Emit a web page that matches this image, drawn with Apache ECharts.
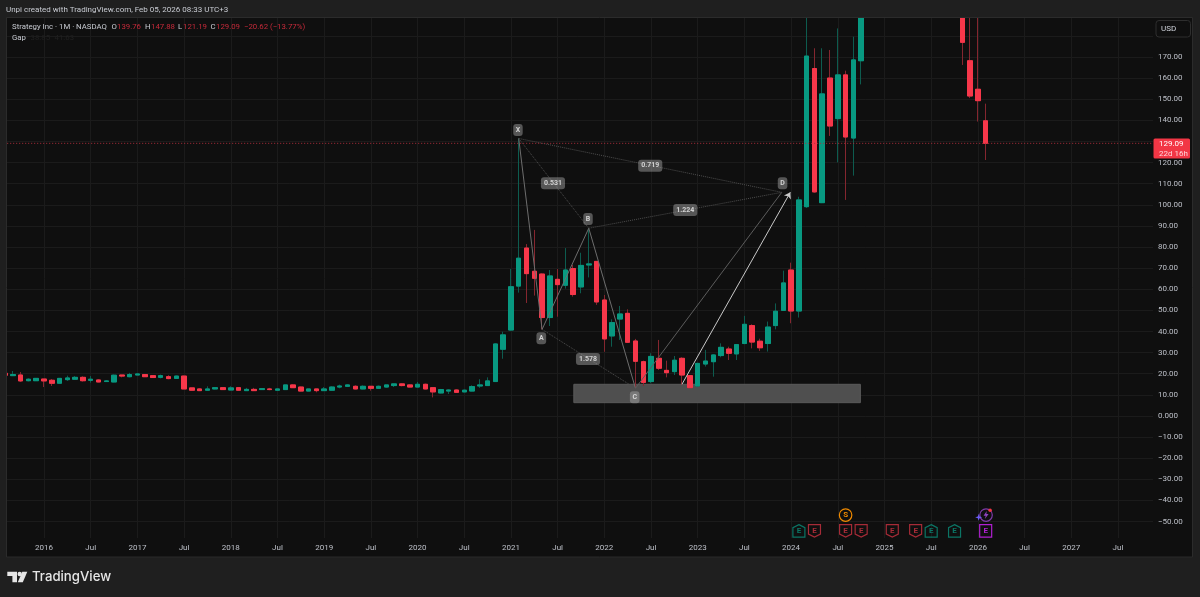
<!DOCTYPE html>
<html>
<head>
<meta charset="utf-8">
<title>Strategy Inc 1M</title>
<style>
  html, body { margin: 0; padding: 0; background: #1f1f1f; }
  #grafico { width: 1200px; height: 597px; }
</style>
<script src="https://cdn.jsdelivr.net/npm/echarts@6/dist/echarts.min.js"></script>
</head>
<body>
<div id="grafico"></div>
<script>
// months on the time scale, Aug 2015 up to Dec 2027
var months = [];
for (var n = 0; n < 148; n++) {
    var total = 2015 * 12 + 7 + n;
    var mm = total % 12 + 1;
    months.push(Math.floor(total / 12) + '-' + (mm < 10 ? '0' : '') + mm);
}

// [open, close, low, high], monthly, first row Aug 2015
var candles = [
    [20.2,19.3,19.1,20.5],[19.1,19.6,18.9,21.3],[19.4,16.6,16.1,20.8],[16.7,17.4,16.4,17.8],[16.7,17.8,16.6,18.0],
    [17.5,16.6,13.7,17.5],[16.9,15.5,14.2,17.5],[15.5,17.8,15.3,18.0],[17.2,18.0,16.6,19.1],[17.4,18.3,17.05,18.9],
    [18.3,16.7,16.3,18.8],[16.9,17.4,15.8,18.9],[17.05,16.1,15.95,17.4],[16.3,16.6,16.1,17.05],[16.1,19.3,15.95,19.6],
    [19.4,18.9,18.3,19.4],[18.6,19.6,18.3,20.4],[19.4,19.9,19.4,20.2],[19.6,18.6,18.5,19.7],[19.1,18.2,18.0,19.3],
    [18.3,19.1,17.8,19.6],[18.6,17.7,17.4,19.3],[17.8,18.9,17.5,19.1],[18.9,12.8,12.8,19.1],[13.3,12.2,12.0,13.3],
    [12.8,12.0,11.8,13.1],[12.2,12.8,12.0,14.05],[12.8,13.4,12.6,13.6],[13.4,12.5,12.3,13.6],[12.3,13.3,12.2,14.05],
    [13.4,12.2,12.0,13.7],[12.0,12.6,11.8,13.3],[12.6,12.0,11.8,13.3],[12.5,12.95,12.3,13.1],[12.8,12.5,12.2,13.3],
    [12.2,12.8,12.0,13.1],[12.5,14.7,12.3,14.7],[14.7,13.4,13.3,15.0],[13.7,11.8,11.7,13.9],[11.8,12.8,11.7,12.8],
    [12.8,12.0,11.2,12.95],[12.0,12.8,11.8,13.7],[12.2,13.7,12.0,14.05],[13.7,14.2,13.1,14.85],[14.05,14.7,13.7,15.0],
    [14.05,12.8,12.6,14.5],[12.8,14.05,12.6,14.5],[14.05,13.1,12.0,14.2],[13.1,14.05,12.8,14.4],[13.7,14.7,13.4,14.7],
    [14.4,15.2,13.7,15.3],[15.2,14.4,14.05,15.5],[14.7,13.7,13.6,15.0],[13.7,15.0,13.6,16.1],[15.0,12.8,12.6,15.3],
    [13.4,11.4,8.8,13.6],[10.9,12.5,10.7,12.8],[11.8,12.3,10.4,12.6],[12.3,11.2,11.05,12.6],[11.4,12.2,11.2,12.5],
    [11.8,13.9,11.7,14.5],[14.2,14.7,13.3,17.4],[14.4,16.6,14.2,18.3],[16.3,34.1,16.3,34.4],[31.6,38.4,27.1,39.9],
    [40.7,61.2,40.4,69.6],[61.5,74.7,58.4,131.5],[79.5,67.4,53.5,81.4],[68.5,65.2,57.0,88.1],[67.2,46.6,41.0,67.5],
    [46.6,66.3,42.6,69.1],[64.7,62.2,47.0,69.6],[61.9,69.1,60.3,79.5],[69.8,57.5,56.5,71.5],[61.1,71.3,58.1,77.3],
    [71.5,72.0,65.6,88.9],[73.2,54.0,52.6,73.2],[54.9,36.5,30.4,57.3],[37.9,44.2,32.8,45.8],[45.9,48.3,36.0,52.1],
    [48.6,34.9,34.7,50.5],[35.5,25.9,13.1,36.5],[25.7,15.9,14.2,26.2],[16.3,28.2,15.5,29.7],[27.3,22.6,21.8,36.0],
    [21.6,20.5,18.3,26.2],[21.0,26.4,19.4,28.4],[27.3,19.4,14.7,27.8],[19.1,13.4,13.1,19.4],[14.2,24.9,13.9,25.2],
    [24.6,26.0,23.4,31.3],[25.7,28.9,18.6,29.2],[28.6,32.5,27.8,34.4],[31.7,29.7,26.5,32.8],[29.4,33.8,26.5,34.0],
    [34.3,43.4,34.0,47.4],[42.8,35.0,32.0,43.4],[35.4,32.3,30.8,36.6],[34.3,42.1,30.5,44.7],[42.8,49.6,41.0,53.3],
    [50.0,63.0,49.7,68.8],[69.1,49.7,43.9,72.6],[49.7,102.3,46.6,103.8],[99.1,170.4,98.5,200],[164.5,106.1,105.7,174.1],
    [101.0,152.5,100.8,174.1],[160.0,137.3,132.6,173.3],[140.8,161.5,120.1,183.5],[161.5,132.1,102.3,163.5],[131.6,168.6,113.8,179.6],
    [168.2,244.5,157.0,250],[244,387,225,543],[387,289,280,450],[289,337,290,397],[337,299,290,400],
    [299,288,230,345],[288,381,270,392],[381,369,360,430],[369,404,350,440],[404,372,370,457],
    [372,334,330,400],[334,322,290,360],[322,254,240,360],[254,176.9,166.2,290],[168.2,151.5,150.5,200],
    [154.7,149.3,139.4,195],[139.76,129.09,121.19,147.88]
];

// price scale, 130.00 sits under the last price tag
var priceTicks = [170,160,150,140,120,110,100,90,80,70,60,50,40,30,20,10,0,-10,-20,-30,-40,-50];
var priceLabels = ['170.00','160.00','150.00','140.00','120.00','110.00','100.00','90.00','80.00','70.00','60.00','50.00','40.00','30.00','20.00','10.00','0.000','\u221210.00','\u221220.00','\u221230.00','\u221240.00','\u221250.00'];
var lastPrice = 129.09;

// XABCD pattern, x is months after Aug 2015
var pointX = [66, 131.4], pointA = [69, 41.0], pointB = [75, 88.9], pointC = [81, 13.1], pointD = [99.8, 105.9];
var arrowLine = [[86.97, 15.0], [100.9, 105.9]];
var demandZone = [[73.08, 15.0], [109.9, 6.3]];
// [month, price, text]
var letterTags = [[65.9,135.4,'X'],[68.9,36.8,'A'],[74.9,93.3,'B'],[80.9,8.85,'C'],[99.9,110.2,'D']];
var ratioTags = [[70.4,110.2,'0.531'],[82.9,118.5,'0.719'],[87.4,97.5,'1.224'],[74.9,27.0,'1.578']];

// earnings markers, [month, kind]
var earnings = [[102,'up'],[104,'down'],[108,'down'],[110,'down'],[114,'down'],[117,'down'],[119,'up'],[122,'up'],[126,'next']];
var earningsRow = -54.4, iconRow = -46.9;

var GREEN = '#089981', RED = '#f7374a';
var UI_FONT = 'Roboto, "Noto Sans", sans-serif';

var bodies = candles.map(function (c) {
    return [c[0], c[1], Math.min(c[0], c[1]), Math.max(c[0], c[1])];
});

function isMajorMonth(index, value) {
    var m = value.slice(5);
    return m === '01' || m === '07';
}

function legSeries(pairs, style, z) {
    return {
        type: 'lines', coordinateSystem: 'cartesian2d', xAxisIndex: 2, yAxisIndex: 0, z: z,
        silent: true, lineStyle: style,
        data: pairs.map(function (p) { return { coords: p }; })
    };
}

function tagSeries(rows, fontSize, padding) {
    return {
        type: 'scatter', xAxisIndex: 2, yAxisIndex: 0, z: 5, symbolSize: 1, silent: true,
        itemStyle: { color: 'transparent' },
        label: {
            show: true, position: 'inside', color: '#eeeeee', fontSize: fontSize, fontWeight: 'bold', fontFamily: UI_FONT,
            backgroundColor: 'rgba(165,165,165,0.6)', borderRadius: 3, padding: padding,
            formatter: function (p) { return p.data[2]; }
        },
        data: rows
    };
}

function headerText(x, y, text, fill, size) {
    return { type: 'text', z: 8, silent: true, style: { x: x, y: y, text: text, fill: fill, font: size + 'px ' + UI_FONT, verticalAlign: 'middle' } };
}

var HOUSE = 'path://M6 0L12 3.2V13H0V3.2Z', SHIELD = 'path://M0 0H12V9.8L6 13L0 9.8Z';
var markerStyles = { up: [HOUSE, '#0b7565'], down: [SHIELD, '#a62b37'], next: ['rect', '#b01fd1'] };

var TXT = '#c8cbd2', LOSS = '#c62a3a', AXIS_TXT = '#bdc0c8';

var option = {
    backgroundColor: '#1f1f1f',
    animation: false,
    tooltip: { show: false },
    grid: { left: 1.2, right: 47, top: 14.7, bottom: 54.3 },
    xAxis: [
        {
            type: 'category', data: months, boundaryGap: true, position: 'bottom',
            axisLine: { show: false }, axisTick: { show: false }, axisLabel: { show: false },
            splitLine: { show: true, interval: isMajorMonth, alignWithLabel: true, lineStyle: { color: '#1b1b1b', width: 1 } }
        },
        {
            type: 'category', data: months, boundaryGap: true, z: 8, position: 'bottom',
            axisLine: { show: false }, axisTick: { show: false }, splitLine: { show: false },
            axisLabel: {
                interval: isMajorMonth, margin: 1, color: AXIS_TXT, fontSize: 8, fontFamily: UI_FONT, hideOverlap: false,
                formatter: function (v) { return v.slice(5) === '07' ? 'Jul' : v.slice(0, 4); }
            }
        },
        { type: 'value', min: -0.5, max: 147.5, show: false, position: 'bottom', splitLine: { show: false } }
    ],
    yAxis: [{
        type: 'value', position: 'right', min: -60, max: 190, interval: 10,
        axisLine: { show: false }, axisTick: { show: false },
        splitLine: { lineStyle: { color: '#1b1b1b', width: 1 } },
        axisLabel: {
            margin: 5, color: AXIS_TXT, fontSize: 8, fontFamily: UI_FONT,
            formatter: function (v) {
                var k = priceTicks.indexOf(v);
                return k < 0 ? '' : priceLabels[k];
            }
        }
    }],
    series: [
        {
            // zone under the candles, hung on an empty scatter
            type: 'scatter', xAxisIndex: 2, yAxisIndex: 0, z: 1, data: [], silent: true,
            markArea: {
                silent: true, itemStyle: { color: '#4f4f4f', borderColor: '#5a5a5a', borderWidth: 1 },
                data: [[{ coord: demandZone[0] }, { coord: demandZone[1] }]]
            }
        },
        {
            type: 'candlestick', name: 'wicks', data: candles, barWidth: 5, z: 2, xAxisIndex: 0, silent: true,
            itemStyle: { color: GREEN, color0: RED, borderColor: '#0d5c4f', borderColor0: '#85262f', borderWidth: 1 }
        },
        {
            type: 'candlestick', name: 'bodies', data: bodies, barWidth: 5, z: 3, xAxisIndex: 0, silent: true,
            itemStyle: { color: GREEN, color0: RED, borderColor: GREEN, borderColor0: RED, borderWidth: 1 }
        },
        legSeries([[pointX, pointA], [pointA, pointB], [pointB, pointC]], { color: '#6d6d6d', width: 1, opacity: 1, curveness: 0 }, 4),
        legSeries([[pointC, pointD]], { color: '#5c5c5c', width: 1, opacity: 1, curveness: 0 }, 4),
        legSeries([[pointX, pointB], [pointB, pointD], [pointX, pointD], [pointA, pointC]], { color: '#4e4e4e', width: 1, type: 'dotted', opacity: 1, curveness: 0 }, 4),
        {
            // last price line
            type: 'line', xAxisIndex: 2, yAxisIndex: 0, z: 4, silent: true, showSymbol: false, symbol: 'none',
            itemStyle: { color: '#b02f3c' },
            lineStyle: { color: '#b02f3c', width: 1, type: [1, 2] },
            data: [[-0.5, lastPrice], [147.5, lastPrice]]
        },
        {
            type: 'lines', coordinateSystem: 'cartesian2d', xAxisIndex: 2, yAxisIndex: 0, z: 4, silent: true,
            symbol: ['none', 'arrow'], symbolSize: 6,
            lineStyle: { color: '#c9c9c9', width: 1, opacity: 1, curveness: 0 },
            data: [{ coords: arrowLine }]
        },
        tagSeries(letterTags, 7, [2.5, 2.5, 2.5, 2.5]),
        tagSeries(ratioTags, 7, [2.5, 3, 2.5, 3]),
        {
            type: 'scatter', xAxisIndex: 2, yAxisIndex: 0, z: 5, silent: true,
            data: earnings.map(function (e) {
                var s = markerStyles[e[1]];
                return {
                    value: [e[0], earningsRow], symbol: s[0], symbolSize: [12, 12.5],
                    itemStyle: { color: 'transparent', borderColor: s[1], borderWidth: 1.2, opacity: 1 },
                    label: { show: true, position: 'inside', formatter: 'E', color: s[1], fontSize: 8, fontFamily: UI_FONT, fontWeight: 'bold' }
                };
            }).concat([
                {
                    value: [108, iconRow], symbol: 'circle', symbolSize: 12.5,
                    itemStyle: { color: 'transparent', borderColor: '#f08a00', borderWidth: 1.2, opacity: 1 },
                    label: { show: true, position: 'inside', formatter: 'S', color: '#f08a00', fontSize: 8, fontFamily: UI_FONT, fontWeight: 'bold' }
                },
                {
                    value: [126.05, iconRow], symbol: 'circle', symbolSize: 12.5,
                    itemStyle: { color: 'transparent', borderColor: '#7e3aa8', borderWidth: 1.2, opacity: 1 }
                },
                {
                    value: [126.05, iconRow], symbol: 'path://M6 0L1 7H4.5L3 12L9 4.5H5.5Z', symbolSize: [5, 8],
                    itemStyle: { color: '#8f44bf', opacity: 1 }
                },
                {
                    value: [125.1, -48], symbol: 'path://M5 0L6.2 3.8L10 5L6.2 6.2L5 10L3.8 6.2L0 5L3.8 3.8Z', symbolSize: 7,
                    itemStyle: { color: '#6d5cf5', opacity: 1 }
                },
                { value: [126.57, -44.6], symbol: 'circle', symbolSize: 3.5, itemStyle: { color: '#f23645', opacity: 1 } }
            ])
        }
    ],
    graphic: [
        // chart panel behind everything
        { type: 'rect', z: -1, silent: true, shape: { x: 6.5, y: 17.5, width: 1186, height: 539.5 }, style: { fill: '#0f0f0f' } },
        // masks over what runs past the pane
        { type: 'rect', z: 6, silent: true, shape: { x: 0, y: 0, width: 1200, height: 17 }, style: { fill: '#1f1f1f' } },
        { type: 'rect', z: 6, silent: true, shape: { x: 0, y: 0, width: 6, height: 597 }, style: { fill: '#1f1f1f' } },
        { type: 'rect', z: 6, silent: true, shape: { x: 7, y: 538, width: 1146, height: 18 }, style: { fill: '#0f0f0f' } },
        { type: 'rect', z: 6, silent: true, shape: { x: 6.5, y: 17.5, width: 1186, height: 539.5 }, style: { fill: 'none', stroke: '#2b2b2b', lineWidth: 1 } },
        // USD button
        { type: 'rect', z: 7, silent: true, shape: { x: 1156, y: 20.5, width: 34.5, height: 16.5, r: 3 }, style: { fill: '#0f0f0f', stroke: '#2e2e2e', lineWidth: 1 } },
        headerText(1161, 29, 'USD', '#d1d4dc', 8),
        // last price tag
        { type: 'rect', z: 7, silent: true, shape: { x: 1153.5, y: 138.5, width: 36.5, height: 20, r: 1.5 }, style: { fill: '#f23645' } },
        headerText(1159, 144, '129.09', '#ffffff', 8),
        headerText(1159, 153.5, '22d 16h', '#ffd5d9', 8),
        // header
        headerText(6, 9.5, 'Unpi created with TradingView.com, Feb 05, 2026 08:33 UTC+3', TXT, 8),
        headerText(12, 27.5, 'Strategy Inc \u00b7 1M \u00b7 NASDAQ', TXT, 7.8),
        headerText(111.5, 27.5, 'O', TXT, 7.8),
        headerText(117, 27.5, '139.76', LOSS, 7.8),
        headerText(145, 27.5, 'H', TXT, 7.8),
        headerText(151, 27.5, '147.88', LOSS, 7.8),
        headerText(178, 27.5, 'L', TXT, 7.8),
        headerText(183, 27.5, '121.19', LOSS, 7.8),
        headerText(210.5, 27.5, 'C', TXT, 7.8),
        headerText(216, 27.5, '129.09', LOSS, 7.8),
        headerText(244, 27.5, '\u221220.62 (\u221213.77%)', LOSS, 7.8),
        headerText(12, 38.5, 'Gap', TXT, 7.8),
        headerText(30.5, 38.5, '38.85', '#202020', 7.8),
        headerText(54.5, 38.5, '41.63', '#202020', 7.8),
        // TradingView mark
        { type: 'polygon', z: 8, silent: true, shape: { points: [[7.3,571.7],[17,571.7],[17,582.3],[12.4,582.3],[12.4,576],[7.3,576]] }, style: { fill: '#e6e6e6' } },
        { type: 'polygon', z: 8, silent: true, shape: { points: [[27.3,571.7],[22.8,582.3],[17.8,582.3],[22.3,571.7]] }, style: { fill: '#e6e6e6' } },
        { type: 'circle', z: 8, silent: true, shape: { cx: 19.7, cy: 574, r: 2.2 }, style: { fill: '#e6e6e6' } },
        { type: 'text', z: 8, silent: true, style: { x: 32, y: 577, text: 'TradingView', fill: '#e6e6e6', font: '500 13.2px Inter, ' + UI_FONT, verticalAlign: 'middle' } }
    ]
};

var chartDom = document.getElementById('grafico');
var myChart = echarts.init(chartDom, null, { renderer: 'canvas' });
myChart.setOption(option);
</script>
</body>
</html>
